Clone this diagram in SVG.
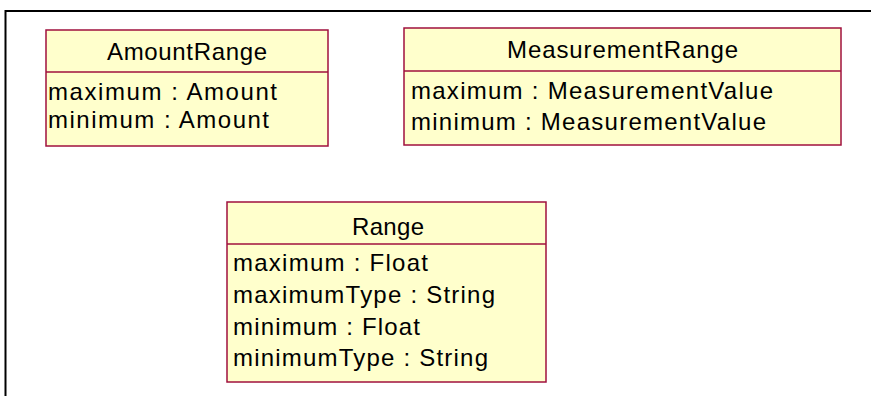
<svg xmlns="http://www.w3.org/2000/svg" width="871" height="396" viewBox="0 0 871 396">
<style>
.box{fill:#ffffcc;stroke:#a0103e;stroke-width:1.5}
.div{stroke:#a0103e;stroke-width:1.5}
text{font-family:"Liberation Sans",Arial,sans-serif;font-size:24px;fill:#000}
.frame{stroke:#000;stroke-width:2;fill:none}
</style>
<rect width="871" height="396" fill="#ffffff"/>
<path class="frame" d="M5.5 396 V11 H871"/>
<g id="AmountRange">
<rect class="box" x="46" y="30" width="282" height="116"/>
<line class="div" x1="46" y1="72" x2="328" y2="72"/>
<text x="107" y="60" textLength="160" lengthAdjust="spacing">AmountRange</text>
<text x="48" y="100" textLength="229" lengthAdjust="spacing">maximum : Amount</text>
<text x="48" y="128" textLength="221" lengthAdjust="spacing">minimum : Amount</text>
</g>
<g id="MeasurementRange">
<rect class="box" x="404" y="28" width="437" height="117"/>
<line class="div" x1="404" y1="71" x2="841" y2="71"/>
<text x="507" y="58" textLength="231" lengthAdjust="spacing">MeasurementRange</text>
<text x="411" y="99" textLength="362" lengthAdjust="spacing">maximum : MeasurementValue</text>
<text x="411" y="130" textLength="355" lengthAdjust="spacing">minimum : MeasurementValue</text>
</g>
<g id="Range">
<rect class="box" x="227" y="202" width="319" height="180"/>
<line class="div" x1="227" y1="244" x2="546" y2="244"/>
<text x="352" y="235" textLength="72" lengthAdjust="spacing">Range</text>
<text x="233" y="271" textLength="195" lengthAdjust="spacing">maximum : Float</text>
<text x="233" y="303" textLength="262" lengthAdjust="spacing">maximumType : String</text>
<text x="233" y="335" textLength="187" lengthAdjust="spacing">minimum : Float</text>
<text x="233" y="366" textLength="255" lengthAdjust="spacing">minimumType : String</text>
</g>
<g id="connectors"></g>
</svg>
